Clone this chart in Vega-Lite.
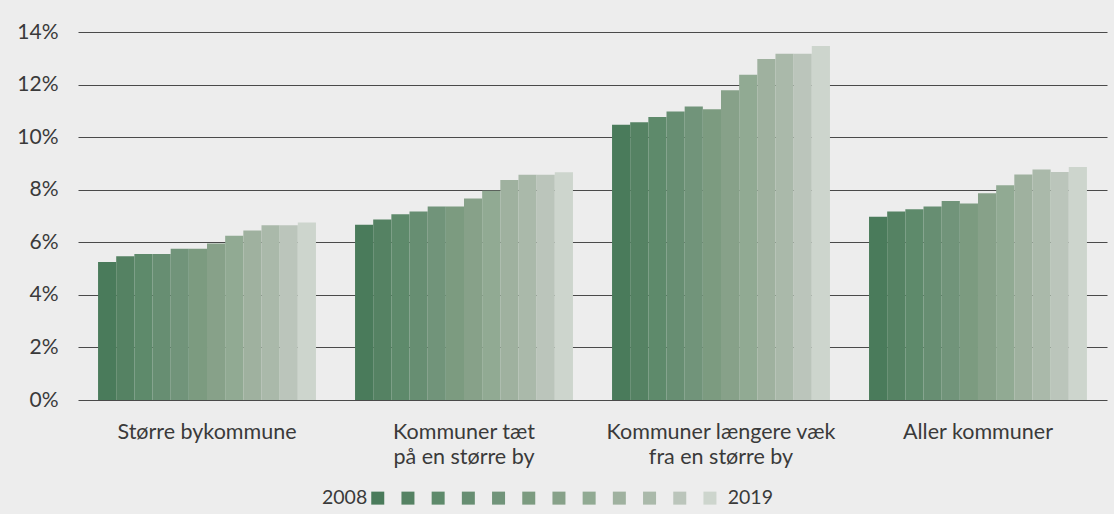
{
  "$schema": "https://vega.github.io/schema/vega-lite/v6.json",
  "width": 1029,
  "height": 368,
  "autosize": {"type": "none"},
  "padding": {"left": 78, "top": 32, "right": 7, "bottom": 114},
  "background": "#ededed",
  "config": {
    "view": {"stroke": null},
    "font": "Lato",
    "axis": {"labelFont": "Lato", "labelFontSize": 21, "labelColor": "#3a3a3a", "labelLimit": 0}
  },
  "data": {
    "values": [
      {"g": "Større bykommune", "year": "2008", "v": 5.25},
      {"g": "Større bykommune", "year": "2009", "v": 5.47},
      {"g": "Større bykommune", "year": "2010", "v": 5.55},
      {"g": "Større bykommune", "year": "2011", "v": 5.55},
      {"g": "Større bykommune", "year": "2012", "v": 5.75},
      {"g": "Større bykommune", "year": "2013", "v": 5.75},
      {"g": "Større bykommune", "year": "2014", "v": 5.95},
      {"g": "Større bykommune", "year": "2015", "v": 6.25},
      {"g": "Større bykommune", "year": "2016", "v": 6.45},
      {"g": "Større bykommune", "year": "2017", "v": 6.65},
      {"g": "Større bykommune", "year": "2018", "v": 6.65},
      {"g": "Større bykommune", "year": "2019", "v": 6.75},
      {"g": "Kommuner tæt på en større by", "year": "2008", "v": 6.67},
      {"g": "Kommuner tæt på en større by", "year": "2009", "v": 6.87},
      {"g": "Kommuner tæt på en større by", "year": "2010", "v": 7.07},
      {"g": "Kommuner tæt på en større by", "year": "2011", "v": 7.17},
      {"g": "Kommuner tæt på en større by", "year": "2012", "v": 7.36},
      {"g": "Kommuner tæt på en større by", "year": "2013", "v": 7.36},
      {"g": "Kommuner tæt på en større by", "year": "2014", "v": 7.67},
      {"g": "Kommuner tæt på en større by", "year": "2015", "v": 7.96},
      {"g": "Kommuner tæt på en større by", "year": "2016", "v": 8.37},
      {"g": "Kommuner tæt på en større by", "year": "2017", "v": 8.57},
      {"g": "Kommuner tæt på en større by", "year": "2018", "v": 8.57},
      {"g": "Kommuner tæt på en større by", "year": "2019", "v": 8.66},
      {"g": "Kommuner længere væk fra en større by", "year": "2008", "v": 10.47},
      {"g": "Kommuner længere væk fra en større by", "year": "2009", "v": 10.57},
      {"g": "Kommuner længere væk fra en større by", "year": "2010", "v": 10.77},
      {"g": "Kommuner længere væk fra en større by", "year": "2011", "v": 10.98},
      {"g": "Kommuner længere væk fra en større by", "year": "2012", "v": 11.17},
      {"g": "Kommuner længere væk fra en større by", "year": "2013", "v": 11.06},
      {"g": "Kommuner længere væk fra en større by", "year": "2014", "v": 11.78},
      {"g": "Kommuner længere væk fra en større by", "year": "2015", "v": 12.37},
      {"g": "Kommuner længere væk fra en større by", "year": "2016", "v": 12.97},
      {"g": "Kommuner længere væk fra en større by", "year": "2017", "v": 13.17},
      {"g": "Kommuner længere væk fra en større by", "year": "2018", "v": 13.17},
      {"g": "Kommuner længere væk fra en større by", "year": "2019", "v": 13.47},
      {"g": "Aller kommuner", "year": "2008", "v": 6.97},
      {"g": "Aller kommuner", "year": "2009", "v": 7.17},
      {"g": "Aller kommuner", "year": "2010", "v": 7.26},
      {"g": "Aller kommuner", "year": "2011", "v": 7.36},
      {"g": "Aller kommuner", "year": "2012", "v": 7.57},
      {"g": "Aller kommuner", "year": "2013", "v": 7.48},
      {"g": "Aller kommuner", "year": "2014", "v": 7.87},
      {"g": "Aller kommuner", "year": "2015", "v": 8.17},
      {"g": "Aller kommuner", "year": "2016", "v": 8.58},
      {"g": "Aller kommuner", "year": "2017", "v": 8.77},
      {"g": "Aller kommuner", "year": "2018", "v": 8.67},
      {"g": "Aller kommuner", "year": "2019", "v": 8.86}
    ]
  },
  "mark": {"type": "bar"},
  "encoding": {
    "x": {
      "field": "g",
      "type": "nominal",
      "sort": null,
      "title": null,
      "scale": {"paddingInner": 0.152, "paddingOuter": 0.078},
      "axis": {
        "ticks": false,
        "domain": false,
        "labelAngle": 0,
        "labelPadding": 21,
        "labelLineHeight": 25,
        "labelFontSize": 21.5,
        "labelExpr": "datum.value == 'Kommuner tæt på en større by' ? ['Kommuner tæt', 'på en større by'] : datum.value == 'Kommuner længere væk fra en større by' ? ['Kommuner længere væk', 'fra en større by'] : datum.label"
      }
    },
    "xOffset": {"field": "year", "type": "nominal", "scale": {"paddingInner": 0, "paddingOuter": 0}},
    "y": {
      "field": "v",
      "type": "quantitative",
      "title": null,
      "scale": {"domain": [0, 14], "nice": false},
      "axis": {
        "values": [0, 2, 4, 6, 8, 10, 12, 14],
        "ticks": false,
        "domain": false,
        "labelPadding": 20,
        "grid": true,
        "gridColor": "#4a4a4a",
        "gridWidth": 1.2,
        "labelExpr": "datum.value + '%'"
      }
    },
    "color": {
      "field": "year",
      "type": "nominal",
      "scale": {
        "domain": ["2008","2009","2010","2011","2012","2013","2014","2015","2016","2017","2018","2019"],
        "range": ["#4a7b5b","#558263","#5e8a6b","#678e72","#71947a","#7c9b80","#87a189","#91aa93","#9fb19f","#aab9aa","#bbc5bb","#cdd5cd"]
      },
      "legend": {
        "orient": "none",
        "legendX": 244,
        "legendY": 456,
        "direction": "horizontal",
        "columns": 12,
        "title": "2008",
        "titleOrient": "left",
        "titleFont": "Lato",
        "titleFontSize": 19.5,
        "titleFontWeight": "normal",
        "titleColor": "#3a3a3a",
        "titlePadding": 0,
        "symbolType": "square",
        "symbolSize": 169,
        "symbolStrokeWidth": 0,
        "symbolOpacity": 1,
        "labelOffset": 8,
        "columnPadding": 2.2,
        "labelFont": "Lato",
        "labelFontSize": 19.5,
        "labelColor": "#3a3a3a",
        "labelExpr": "datum.label == '2019' ? '2019' : ''"
      }
    }
  }
}
